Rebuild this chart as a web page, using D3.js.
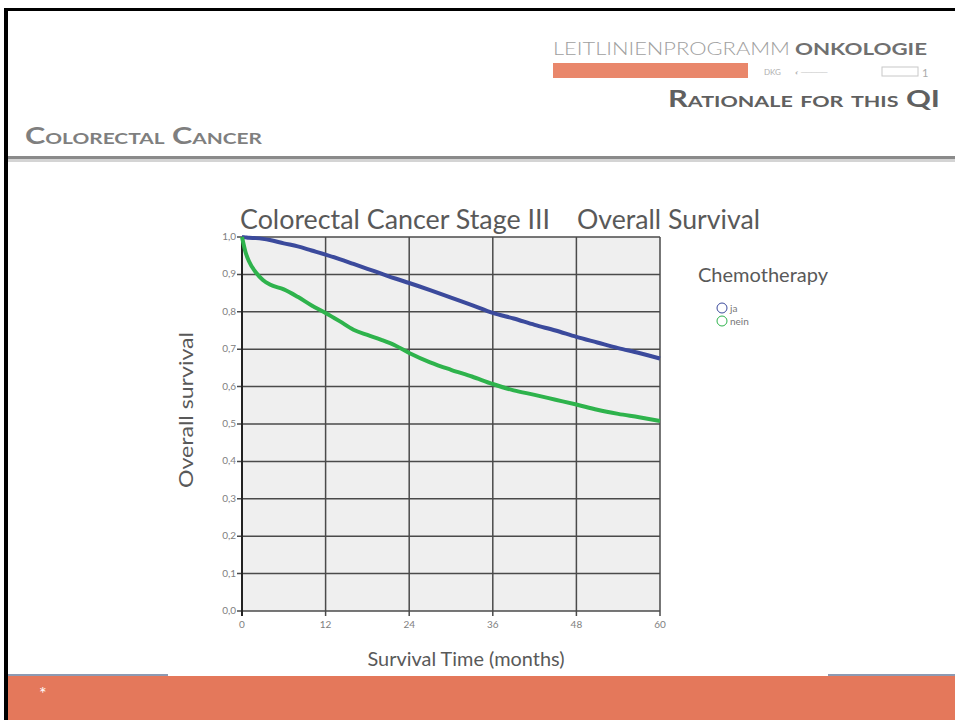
<!DOCTYPE html>
<meta charset="utf-8">
<script src="https://d3js.org/d3.v7.min.js"></script>
<style>
  body { margin: 0; background: #fff; }
  svg text { font-family: Lato, "Open Sans", sans-serif; }
</style>
<body>
<div id="my_dataviz"></div>
<script>
// data
var months = [0, 0.5, 1, 2, 3, 4, 6, 8, 10, 12, 14, 16, 18, 20, 22, 24, 27, 30, 33, 36, 39, 42, 45, 48, 51, 54, 57, 60];
var survJa = [1.0, 0.999, 0.998, 0.997, 0.995, 0.992, 0.983, 0.975, 0.964, 0.953, 0.941, 0.928, 0.915, 0.902, 0.889, 0.877, 0.858, 0.838, 0.818, 0.797, 0.782, 0.765, 0.75, 0.733, 0.718, 0.703, 0.69, 0.675];
var survNein = [1.0, 0.96, 0.935, 0.905, 0.885, 0.873, 0.86, 0.84, 0.817, 0.797, 0.775, 0.752, 0.738, 0.725, 0.71, 0.69, 0.665, 0.645, 0.627, 0.607, 0.59, 0.578, 0.565, 0.552, 0.538, 0.527, 0.518, 0.508];
var xTicks = [0, 12, 24, 36, 48, 60];
var yTicks = [0, 0.1, 0.2, 0.3, 0.4, 0.5, 0.6, 0.7, 0.8, 0.9, 1.0];
var seriesNames = ["ja", "nein"];
var seriesColors = ["#3b4a9c", "#2eb34c"];

var W = 955, H = 720;
var svg = d3.select("#my_dataviz").append("svg")
    .attr("width", W).attr("height", H);

// slide frame
svg.append("rect").attr("x", 4).attr("y", 8).attr("width", W - 4).attr("height", 3).attr("fill", "#000");
svg.append("rect").attr("x", 4).attr("y", 8).attr("width", 4).attr("height", H - 8).attr("fill", "#000");

// header logo
svg.append("text").attr("x", 553).attr("y", 55)
    .attr("font-size", 17).attr("fill", "#a0a0a0").attr("font-weight", 300)
    .attr("textLength", 237).attr("lengthAdjust", "spacingAndGlyphs")
    .text("LEITLINIENPROGRAMM");
svg.append("text").attr("x", 795).attr("y", 55)
    .attr("font-size", 17).attr("fill", "#707070").attr("font-weight", "bold")
    .attr("textLength", 132).attr("lengthAdjust", "spacingAndGlyphs")
    .text("ONKOLOGIE");
svg.append("rect").attr("x", 553).attr("y", 63).attr("width", 195).attr("height", 15).attr("fill", "#e9876b");
svg.append("text").attr("x", 764).attr("y", 75).attr("font-size", 8).attr("fill", "#b0b0b0").text("DKG");
svg.append("text").attr("x", 795).attr("y", 75).attr("font-size", 7).attr("fill", "#b8b8b8").text("◐ ─────");
svg.append("rect").attr("x", 882).attr("y", 67).attr("width", 36).attr("height", 9).attr("fill", "none").attr("stroke", "#c8c8c8");
svg.append("text").attr("x", 922).attr("y", 77).attr("font-size", 11).attr("fill", "#aaa").text("1");

svg.append("text").attr("x", 940).attr("y", 107).attr("text-anchor", "end")
    .attr("font-size", 23).attr("font-weight", "bold").attr("fill", "#606060")
    .style("font-variant", "small-caps")
    .attr("textLength", 272).attr("lengthAdjust", "spacingAndGlyphs")
    .text("Rationale  for this QI");

svg.append("text").attr("x", 25).attr("y", 144)
    .attr("font-size", 22).attr("font-weight", "bold").attr("fill", "#7f7f7f")
    .style("font-variant", "small-caps")
    .attr("textLength", 237).attr("lengthAdjust", "spacingAndGlyphs")
    .text("Colorectal Cancer");

svg.append("rect").attr("x", 8).attr("y", 156).attr("width", W - 8).attr("height", 3).attr("fill", "#8a8a8a");
svg.append("rect").attr("x", 8).attr("y", 159).attr("width", W - 8).attr("height", 3).attr("fill", "#d4d4d4");

// footer band
svg.append("rect").attr("x", 8).attr("y", 676).attr("width", W - 8).attr("height", H - 676).attr("fill", "#e4785b");
svg.append("rect").attr("x", 8).attr("y", 674).attr("width", 160).attr("height", 2).attr("fill", "#8d9ab2");
svg.append("rect").attr("x", 828).attr("y", 674).attr("width", W - 828).attr("height", 2).attr("fill", "#8d9ab2");
svg.append("text").attr("x", 39).attr("y", 700).attr("font-size", 18).attr("fill", "#fff").text("*");

// chart
var x = d3.scaleLinear().domain([0, 60]).range([242, 660]);
var y = d3.scaleLinear().domain([0, 1]).range([611, 237]);

svg.append("rect").attr("x", x(0)).attr("y", y(1))
    .attr("width", x(60) - x(0)).attr("height", y(0) - y(1))
    .attr("fill", "#efefef");

// grid
svg.append("g").selectAll("line").data(yTicks).enter().append("line")
    .attr("x1", x(0) - 5).attr("x2", x(60))
    .attr("y1", function (d) { return y(d); }).attr("y2", function (d) { return y(d); })
    .attr("stroke", "#4a4a4a").attr("stroke-width", 1.5);
svg.append("g").selectAll("line").data(xTicks).enter().append("line")
    .attr("y1", y(1)).attr("y2", y(0) + 5)
    .attr("x1", function (d) { return x(d); }).attr("x2", function (d) { return x(d); })
    .attr("stroke", "#4a4a4a").attr("stroke-width", 1.5);
svg.append("line").attr("x1", x(0)).attr("x2", x(0)).attr("y1", y(1)).attr("y2", y(0) + 5)
    .attr("stroke", "#222").attr("stroke-width", 2);

// tick labels
var fmt = function (d) { return d3.format(".1f")(d).replace(".", ","); };
svg.append("g").selectAll("text").data(yTicks).enter().append("text")
    .attr("x", x(0) - 6).attr("y", function (d) { return y(d) + 3; })
    .attr("text-anchor", "end").attr("font-size", 10).attr("fill", "#808080")
    .text(fmt);
svg.append("g").selectAll("text").data(xTicks).enter().append("text")
    .attr("x", function (d) { return x(d); }).attr("y", y(0) + 17)
    .attr("text-anchor", "middle").attr("font-size", 10).attr("fill", "#808080")
    .text(function (d) { return d; });

// survival curves
var line = d3.line()
    .x(function (d) { return x(d[0]); })
    .y(function (d) { return y(d[1]); })
    .curve(d3.curveMonotoneX);
[survJa, survNein].forEach(function (s, i) {
  svg.append("path")
    .datum(months.map(function (m, j) { return [m, s[j]]; }))
    .attr("fill", "none")
    .attr("stroke", seriesColors[i])
    .attr("stroke-width", 4)
    .attr("stroke-linejoin", "round")
    .attr("d", line);
});

// titles
svg.append("text").attr("x", 240).attr("y", 229)
    .attr("font-size", 26).attr("fill", "#595959")
    .attr("textLength", 310).attr("lengthAdjust", "spacingAndGlyphs")
    .text("Colorectal Cancer Stage III");
svg.append("text").attr("x", 577).attr("y", 229)
    .attr("font-size", 26).attr("fill", "#595959")
    .attr("textLength", 183).attr("lengthAdjust", "spacingAndGlyphs")
    .text("Overall Survival");

svg.append("text")
    .attr("transform", "translate(193,410) rotate(-90)")
    .attr("text-anchor", "middle").attr("font-size", 19).attr("fill", "#595959")
    .attr("textLength", 156).attr("lengthAdjust", "spacingAndGlyphs")
    .text("Overall survival");
svg.append("text").attr("x", 466).attr("y", 666)
    .attr("text-anchor", "middle").attr("font-size", 19).attr("fill", "#595959")
    .attr("textLength", 197).attr("lengthAdjust", "spacingAndGlyphs")
    .text("Survival Time (months)");

// legend
svg.append("text").attr("x", 698).attr("y", 282)
    .attr("font-size", 19).attr("fill", "#595959")
    .attr("textLength", 130).attr("lengthAdjust", "spacingAndGlyphs")
    .text("Chemotherapy");
var leg = svg.append("g").selectAll("g").data(seriesNames).enter().append("g")
    .attr("transform", function (d, i) { return "translate(722," + (308 + i * 13) + ")"; });
leg.append("circle").attr("r", 5).attr("fill", "none")
    .attr("stroke", function (d, i) { return seriesColors[i]; }).attr("stroke-width", 1);
leg.append("text").attr("x", 8).attr("y", 4).attr("font-size", 10).attr("fill", "#777")
    .text(function (d) { return d; });
</script>
</body>
